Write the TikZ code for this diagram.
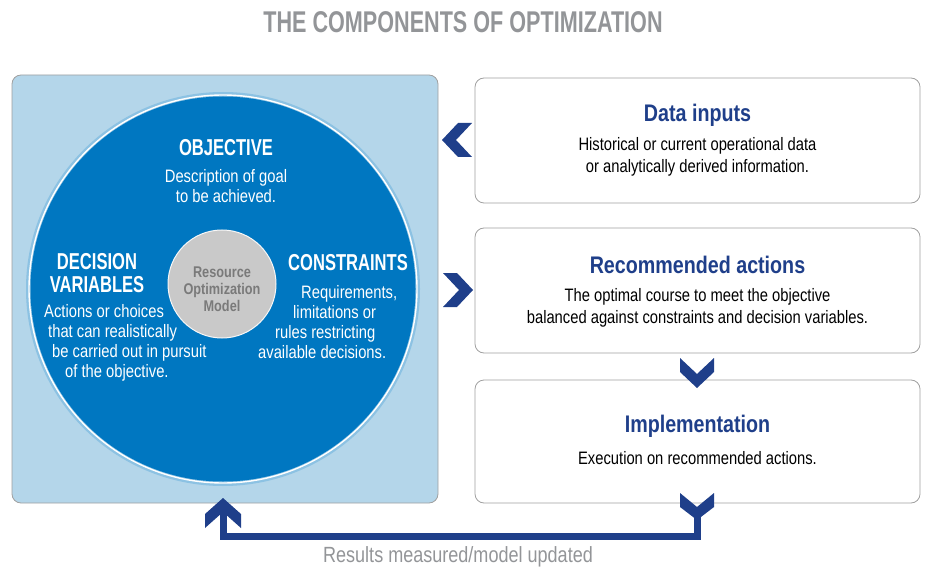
\documentclass[tikz,border=0pt]{standalone}
\usepackage{fontspec}
\setmainfont{Liberation Sans}[FakeStretch=0.82]
\newfontfamily\headfont{Liberation Sans}[FakeStretch=0.72]
\usetikzlibrary{positioning}
\definecolor{navy}{HTML}{1F3F8A}
\definecolor{titlegray}{HTML}{939598}
\definecolor{panelblue}{HTML}{B4D6EA}
\definecolor{discblue}{HTML}{0077C1}
\definecolor{hubgray}{HTML}{C9C9C9}
\definecolor{hubtext}{HTML}{7A7A7A}
\definecolor{edgegray}{HTML}{A0A0A0}
\tikzstyle{card} = [draw=edgegray, fill=white, rounded corners=9pt, minimum width=445pt, minimum height=125pt, line width=0.8pt]
\tikzstyle{card_head} = [text=navy, font=\bfseries\fontsize{24}{28}\selectfont]
\tikzstyle{card_text} = [text=black, align=center, font=\fontsize{18}{22}\selectfont]
\tikzstyle{chevron} = [fill=navy, draw=none]

\begin{document}
\begin{tikzpicture}[x=1pt, y=-1pt]
        \tikzstyle{disc_head} = [text=white, align=center, font=\headfont\bfseries\fontsize{23}{23}\selectfont]
        \tikzstyle{disc_text} = [text=white, align=center, font=\fontsize{18}{20}\selectfont]

        \useasboundingbox (0,0) rectangle (925,569);

        \node (title) at (463,22) [text=titlegray, font=\headfont\bfseries\fontsize{30}{34}\selectfont] {THE COMPONENTS OF OPTIMIZATION};

        \node (model) at (225,289) [draw=edgegray, fill=panelblue, rounded corners=9pt, minimum width=426pt, minimum height=428pt, line width=0.8pt] {};
        \fill[white!55!discblue] (223,289) circle (197pt);
        \draw[white, line width=1.4pt] (223,289) circle (194pt);
        \fill[discblue] (223,289) circle (192.5pt);
        \node (hub) at (222,284) [circle, fill=hubgray, draw=white!85!hubgray, line width=1pt, minimum size=108pt] {};
        \node at (222,289) [text=hubtext, align=center, font=\bfseries\fontsize{15.5}{17}\selectfont] {Resource\\Optimization\\Model};

        \node (obj) at (226,148) [disc_head] {OBJECTIVE};
        \node at (226,186) [disc_text] {Description of goal\\to be achieved.};
        \node (dec) at (97,273) [disc_head] {DECISION\\VARIABLES};
        \node at (44,343) [disc_text, anchor=west, align=left, inner sep=0pt] {Actions or choices\\\hspace*{4pt}that can realistically\\\hspace*{8pt}be carried out in pursuit\\\hspace*{21pt}of the objective.};
        \node (con) at (348,263) [disc_head] {CONSTRAINTS};
        \node at (258,322) [disc_text, anchor=west, align=left, inner sep=0pt] {\hspace*{43pt}Requirements,\\\hspace*{35pt}limitations or\\\hspace*{17pt}rules restricting\\available decisions.};

        \node (data) at (697.5,140.5) [card] {};
        \node at (697.5,115) [card_head] {Data inputs};
        \node at (697.5,157) [card_text] {Historical or current operational data\\or analytically derived information.};
        \node (recom) at (697.5,290.5) [card] {};
        \node at (697.5,265) [card_head] {Recommended actions};
        \node at (697.5,308) [card_text] {The optimal course to meet the objective\\balanced against constraints and decision variables.};
        \node (impl) at (697.5,441.5) [card, minimum height=123pt] {};
        \node at (697.5,426) [card_head] {Implementation};
        \node at (697.5,458) [card_text] {Execution on recommended actions.};

        \fill[chevron] (472,123) -- (458,123) -- (442,140) -- (458,157) -- (472,157) -- (456,140) -- cycle;
        \fill[chevron] (443,273) -- (457,273) -- (473,290) -- (457,307) -- (443,307) -- (459,290) -- cycle;
        \fill[chevron] (680,358) -- (680,372) -- (697,388) -- (714,372) -- (714,358) -- (697,374) -- cycle;

        \coordinate (fb_out) at (697,512);
        \coordinate (fb_in) at (223,512);
        \fill[chevron] (680,493) -- (680,507) -- (697,520) -- (714,507) -- (714,493) -- (697,507) -- cycle;
        \draw[navy, line width=7pt, line join=miter] (fb_out) -- ++(0,24) -| (fb_in);
        \fill[chevron] (223,498) -- (241,514) -- (241,528) -- (223,512) -- (205,528) -- (205,514) -- cycle;

        \node (fb_label) at (458,557) [text=titlegray, font=\fontsize{22}{24}\selectfont] {Results measured/model updated};
    \end{tikzpicture}
\end{document}
